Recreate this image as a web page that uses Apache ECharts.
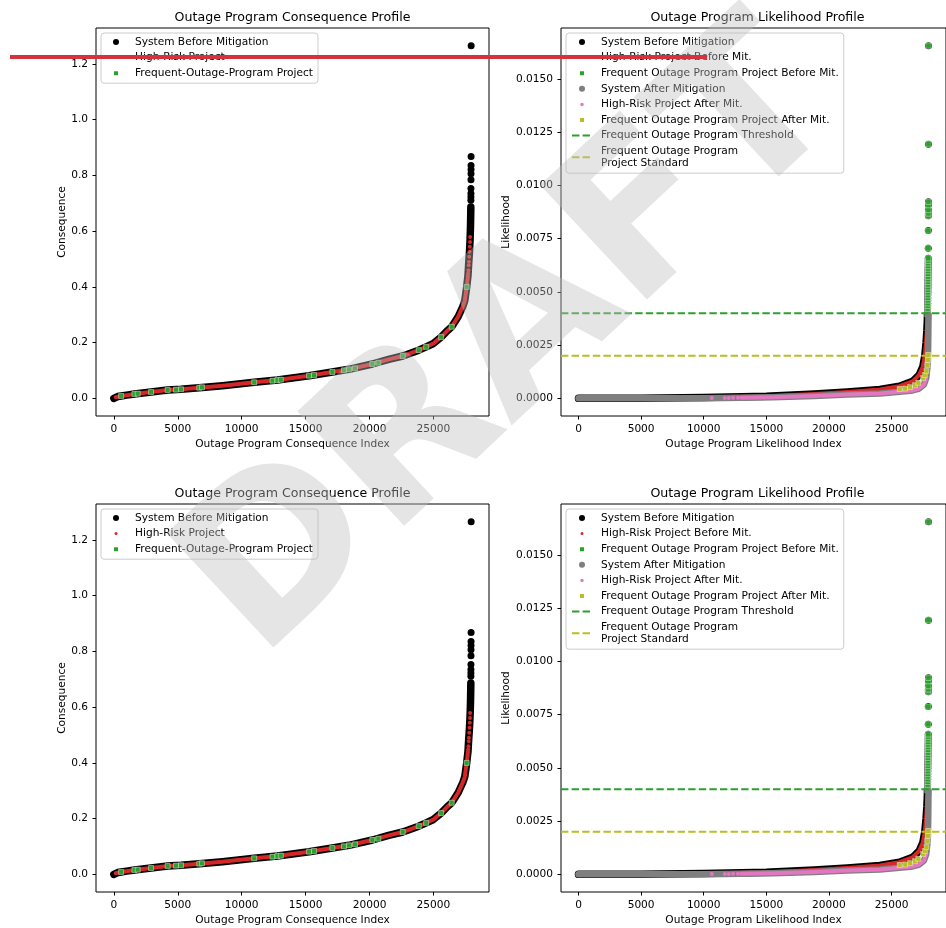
<!DOCTYPE html>
<html>
<head>
<meta charset="utf-8">
<script src="https://cdn.jsdelivr.net/npm/echarts@6/dist/echarts.min.js"></script>
<style>
  html, body { margin: 0; padding: 0; background: #ffffff; }
  #chart { width: 946px; height: 928px; }
</style>
</head>
<body>
<div id="chart"></div>
<script>
const FONT = 'DejaVu Sans';
const TXT = { fontFamily: FONT, fontSize: 10.6, color: '#000000' };

// Tick positions
const xTicks = [0, 5000, 10000, 15000, 20000, 25000];
const consTicks = [0, 0.2, 0.4, 0.6, 0.8, 1.0, 1.2];
const likeTicks = [0, 0.0025, 0.005, 0.0075, 0.01, 0.0125, 0.015];

// ---- Consequence profile ----
// sorted system consequence (dense band)
const consSysIdx = [0, 60, 150, 300, 570, 1000, 1610, 2910, 4210, 5250, 6680, 8500, 10975, 12800, 15270,
  17090, 18390, 20220, 21500, 22600, 23850, 24430, 25000, 25600, 26000, 26430, 26930, 27290, 27450, 27600,
  27700, 27757, 27820, 27864, 27900, 27925];
const consSysVal = [0.000, 0.002, 0.0045, 0.0065, 0.0086, 0.0115, 0.0158, 0.0229, 0.0301, 0.0326, 0.0383, 0.0455, 0.0577, 0.0659, 0.0813,
  0.0946, 0.1043, 0.1233, 0.140, 0.152, 0.173, 0.185, 0.197, 0.220, 0.239, 0.257, 0.293, 0.329, 0.350, 0.400,
  0.440, 0.484, 0.526, 0.5675, 0.620, 0.687];
// separated points at the top of the sorted curve
const consTopIdx = [27928, 27930, 27932, 27934, 27936, 27938, 27940, 27942, 27944, 27948];
const consTopVal = [0.711, 0.723, 0.735, 0.753, 0.785, 0.806, 0.821, 0.836, 0.868, 1.266];
// high-risk projects in the steep tail
const consRiskTopIdx = [27715, 27735, 27760, 27775, 27800, 27825, 27845, 27862, 27870];
const consRiskTopVal = [0.448, 0.460, 0.478, 0.490, 0.508, 0.526, 0.544, 0.561, 0.579];
// frequent-outage-program projects
const consFreqIdx = [570, 1610, 1870, 2910, 4210, 4860, 5250, 6680, 6890, 10975, 12410, 12800, 13060, 15270,
  15660, 17090, 18000, 18390, 18860, 20220, 20690, 22600, 23850, 24430, 25600, 26430, 27600];
const consFreqVal = [0.0086, 0.0158, 0.0168, 0.0229, 0.0301, 0.0312, 0.0326, 0.0383, 0.0398, 0.0577, 0.0634, 0.0659, 0.067, 0.0813,
  0.0838, 0.0946, 0.1007, 0.1043, 0.1078, 0.1233, 0.1279, 0.152, 0.173, 0.185, 0.220, 0.257, 0.400];

// ---- Likelihood profile ----
// system before mitigation (sorted)
const likeBeforeIdx = [0, 5000, 10000, 13000, 15000, 18830, 21460, 24070, 25630, 26680, 27200, 27500,
  27650, 27750, 27820, 27850, 27870];
const likeBeforeVal = [0.0, 0.00001, 0.00004, 0.00007, 0.0001, 0.00021, 0.0003, 0.00042, 0.00057, 0.0008, 0.0011, 0.0015,
  0.0020, 0.0026, 0.0032, 0.0036, 0.0040];
// frequent outage program projects before mitigation
const likeFreqIdx = [27872, 27875, 27878, 27880, 27883, 27886, 27888, 27891, 27894, 27896, 27899, 27902, 27904, 27907,
  27910, 27912, 27915, 27918, 27920, 27923, 27926, 27928, 27931, 27934, 27936, 27938, 27940, 27942, 27944, 27946, 27948];
const likeFreqVal = [0.00395, 0.0041, 0.00422, 0.00435, 0.00447, 0.0046, 0.00472, 0.00485, 0.00498, 0.0051, 0.00522, 0.00535, 0.00548, 0.0056,
  0.00572, 0.00585, 0.00598, 0.0061, 0.00622, 0.00635, 0.00647, 0.00658, 0.00705, 0.00788, 0.00858, 0.00869, 0.00885, 0.00908, 0.00924, 0.01194, 0.01657];
// system after mitigation (sorted)
const likeAfterIdx = [0, 5000, 10000, 13000, 15500, 18830, 21460, 24070, 25630, 26680, 27200, 27590, 27770,
  27850, 27900, 27930, 27948];
const likeAfterVal = [0.0, 0.0, 0.00001, 0.00003, 0.00005, 0.00011, 0.00018, 0.00023, 0.00031, 0.00037, 0.00046, 0.00065, 0.00096,
  0.0014, 0.00175, 0.0028, 0.0039];
// isolated high-risk projects after mitigation
const likeRiskAfterIdx = [10645, 11685, 12000, 12340, 12730];
const likeRiskAfterVal = [0.00002, 0.00002, 0.00002, 0.00003, 0.00003];
// frequent outage program projects after mitigation
const likeFreqAfterIdx = [25650, 26090, 26480, 26870, 27130, 27520, 27650, 27780, 27860, 27910, 27930];
const likeFreqAfterVal = [0.00044, 0.00046, 0.00053, 0.00062, 0.00073, 0.00096, 0.00110, 0.00128, 0.00157, 0.00181, 0.00204];

const FREQ_THRESHOLD = 0.004;
const FREQ_STANDARD = 0.002;

// ---- helpers ----
const pairs = (xs, ys) => xs.map((x, i) => [x, ys[i]]);
const within = (xs, ys, lo, hi) => pairs(xs, ys).filter(p => p[0] >= lo && p[0] <= hi);
function padded(values) {
  const lo = Math.min(...values), hi = Math.max(...values), m = (hi - lo) * 0.05;
  return [lo - m, hi + m];
}

const consX = padded([...consSysIdx, ...consTopIdx]);
const consY = padded([...consSysVal, ...consTopVal]);
const likeX = padded([...likeBeforeIdx, ...likeFreqIdx, ...likeAfterIdx]);
const likeY = padded([...likeBeforeVal, ...likeFreqVal, ...likeAfterVal]);

const PANEL_W = 393, PANEL_H = 388;
const option = {
  animation: false,
  backgroundColor: '#ffffff',
  title: [], grid: [], xAxis: [], yAxis: [], legend: [], series: [], graphic: []
};

function addAxes(gi, left, top, xName, yName, xr, yr, yTicks, digits, yGap, title) {
  option.title.push({
    text: title, left: left + PANEL_W / 2, top: top - 17, textAlign: 'center', padding: 0, z: 50,
    textStyle: { fontFamily: FONT, fontSize: 12.6, fontWeight: 'normal', color: '#000000' }
  });
  option.grid.push({ left, top, width: PANEL_W, height: PANEL_H, show: true,
    borderColor: '#000000', borderWidth: 1, backgroundColor: 'transparent' });
  option.xAxis.push({
    type: 'value', gridIndex: gi, min: xr[0], max: xr[1],
    name: xName, nameLocation: 'middle', nameGap: 22.5, nameTextStyle: TXT,
    axisLine: { show: false, onZero: false }, splitLine: { show: false },
    axisTick: { show: true, inside: false, length: 3.5, customValues: xTicks, lineStyle: { color: '#000000', width: 1 } },
    axisLabel: { show: true, customValues: xTicks, margin: 8, ...TXT, formatter: v => String(Math.round(v)) }
  });
  option.yAxis.push({
    type: 'value', gridIndex: gi, min: yr[0], max: yr[1],
    name: yName, nameLocation: 'middle', nameRotate: 90, nameGap: yGap, nameTextStyle: TXT,
    axisLine: { show: false, onZero: false }, splitLine: { show: false },
    axisTick: { show: true, inside: false, length: 3.5, customValues: yTicks, lineStyle: { color: '#000000', width: 1 } },
    axisLabel: { show: true, customValues: yTicks, margin: 8, ...TXT, formatter: v => Number(v).toFixed(digits) }
  });
}

let layer = 2;
function band(name, gi, pts, color, width) {
  return { type: 'line', name, z: layer++, xAxisIndex: gi, yAxisIndex: gi, data: pts, color, symbol: 'none', silent: true,
    clip: true, lineStyle: { width, color, cap: 'round', join: 'round' } };
}
function dots(name, gi, pts, color, symbol, size, edged) {
  return { type: 'scatter', name, z: layer++, xAxisIndex: gi, yAxisIndex: gi, data: pts, color, symbol, symbolSize: size, silent: true,
    itemStyle: edged ? { color, opacity: 1, borderColor: 'rgba(255,255,255,0.6)', borderWidth: 0.7 } : { color, opacity: 1 } };
}
function dashed(name, gi, xr, value, color) {
  return { type: 'line', name, z: layer++, xAxisIndex: gi, yAxisIndex: gi, data: [[xr[0], value], [xr[1], value]], color,
    symbol: 'none', silent: true, clip: true, lineStyle: { width: 2, color, type: [7.4, 3.2] } };
}
const SQUARE = 'path://M0 0H10V10H0Z';
function legendBox(left, top, padLeft, items) {
  option.legend.push({
    orient: 'vertical', left, top, z: 50, padding: [3, 5, 4, padLeft], itemWidth: 20, itemHeight: 6, itemGap: 3.6,
    backgroundColor: 'rgba(255,255,255,0.8)', borderColor: '#cccccc', borderWidth: 1, borderRadius: 3,
    selectedMode: false,
    textStyle: { ...TXT, lineHeight: 12, padding: [0, 0, 0, 4] },
    formatter: n => n === 'Frequent Outage Program Project Standard' ? 'Frequent Outage Program\nProject Standard' : n,
    data: items
  });
}
const SMALL_DOT = { borderColor: '#ffffff', borderWidth: 3 };
const SMALL_SQ = { borderColor: '#ffffff', borderWidth: 2 };

function consequencePanel(gi, left, top) {
  addAxes(gi, left, top, 'Outage Program Consequence Index', 'Consequence', consX, consY, consTicks, 1, 27,
    'Outage Program Consequence Profile');
  option.series.push(
    dots('System Before Mitigation', gi, pairs(consTopIdx, consTopVal), '#000000', 'circle', 7, false),
    band('System Before Mitigation', gi, pairs(consSysIdx, consSysVal), '#000000', 7.5),
    dots('High-Risk Project', gi, pairs(consRiskTopIdx, consRiskTopVal), '#d62728', 'circle', 4, false),
    band('High-Risk Project', gi, within(consSysIdx, consSysVal, 150, 27700), '#d62728', 4),
    dots('Frequent-Outage-Program Project', gi, pairs(consFreqIdx, consFreqVal), '#2ca02c', 'rect', 5, true)
  );
  // markers only here, so the item box starts at the marker edge: pad a little more on the left
  legendBox(left + 5, top + 5, 10.5, [
    { name: 'System Before Mitigation', icon: 'circle' },
    { name: 'High-Risk Project', icon: 'circle', itemStyle: SMALL_DOT },
    { name: 'Frequent-Outage-Program Project', icon: SQUARE, itemStyle: SMALL_SQ }
  ]);
}

function likelihoodPanel(gi, left, top) {
  addAxes(gi, left, top, 'Outage Program Likelihood Index', 'Likelihood', likeX, likeY, likeTicks, 4, 48,
    'Outage Program Likelihood Profile');
  option.series.push(
    dots('System Before Mitigation', gi, pairs(likeFreqIdx, likeFreqVal), '#000000', 'circle', 7, false),
    band('System Before Mitigation', gi, pairs(likeBeforeIdx, likeBeforeVal), '#000000', 7.5),
    band('High-Risk Project Before Mit.', gi, within(likeBeforeIdx, likeBeforeVal, 10000, 27850), '#d62728', 4),
    dots('Frequent Outage Program Project Before Mit.', gi, pairs(likeFreqIdx, likeFreqVal), '#2ca02c', 'rect', 5.5, true),
    band('System After Mitigation', gi, pairs(likeAfterIdx, likeAfterVal), '#7f7f7f', 6.5),
    band('High-Risk Project After Mit.', gi, within(likeAfterIdx, likeAfterVal, 13000, 27800), '#e377c2', 4),
    dots('High-Risk Project After Mit.', gi, pairs(likeRiskAfterIdx, likeRiskAfterVal), '#e377c2', 'circle', 4, false),
    dots('Frequent Outage Program Project After Mit.', gi, pairs(likeFreqAfterIdx, likeFreqAfterVal), '#bcbd22', 'rect', 5, true),
    dashed('Frequent Outage Program Threshold', gi, likeX, FREQ_THRESHOLD, '#2ca02c'),
    dashed('Frequent Outage Program Project Standard', gi, likeX, FREQ_STANDARD, '#bcbd22')
  );
  legendBox(left + 5, top + 5, 5, [
    { name: 'System Before Mitigation', icon: 'circle' },
    { name: 'High-Risk Project Before Mit.', icon: 'circle', itemStyle: SMALL_DOT },
    { name: 'Frequent Outage Program Project Before Mit.', icon: SQUARE, itemStyle: SMALL_SQ },
    { name: 'System After Mitigation', icon: 'circle' },
    { name: 'High-Risk Project After Mit.', icon: 'circle', itemStyle: { borderColor: '#ffffff', borderWidth: 2.5 } },
    { name: 'Frequent Outage Program Project After Mit.', icon: SQUARE, itemStyle: SMALL_SQ },
    { name: 'Frequent Outage Program Threshold', itemStyle: { opacity: 0 } },
    { name: 'Frequent Outage Program Project Standard', itemStyle: { opacity: 0 } }
  ]);
}

consequencePanel(0, 96, 28);
likelihoodPanel(1, 561, 28);
consequencePanel(2, 96, 504);
likelihoodPanel(3, 561, 504);

// watermark and review mark drawn over the figure
option.graphic.push(
  { type: 'text', x: 515, y: 346, rotation: 43 * Math.PI / 180, z: 100, silent: true,
    style: { text: 'DRAFT', fontFamily: FONT, fontSize: 215, fontWeight: 'bold',
      fill: 'rgba(190,190,190,0.4)', align: 'center', verticalAlign: 'middle' } },
  { type: 'line', z: 101, silent: true, shape: { x1: 10, y1: 57, x2: 707, y2: 57 },
    style: { stroke: '#d4333b', lineWidth: 4 } }
);

const chart = echarts.init(document.getElementById('chart'), null, { renderer: 'canvas' });
chart.setOption(option);
</script>
</body>
</html>
